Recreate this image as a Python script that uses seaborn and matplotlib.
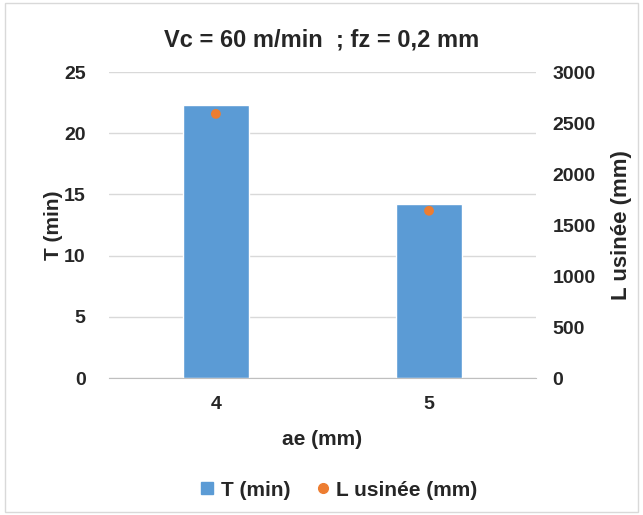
import seaborn as sns
import matplotlib.pyplot as plt
import pandas as pd
from matplotlib.lines import Line2D

# data
ae = ["4", "5"]
t_min = [22.3, 14.2]
l_usinee = [2590, 1640]

df = pd.DataFrame({"ae": ae, "T": t_min, "L": l_usinee})

sns.set_style("white")
plt.rcParams["font.family"] = ["Liberation Sans", "DejaVu Sans"]
plt.rcParams["font.weight"] = "bold"

fig = plt.figure(figsize=(6.43, 5.15), dpi=100)
ax = fig.add_axes([0.170, 0.266, 0.663, 0.594])

blue = "#5b9bd5"
orange = "#ed7d31"

sns.barplot(x="ae", y="T", data=df, color=blue, width=0.31, ax=ax,
            saturation=1, zorder=2)
ax.set_ylim(0, 25)
ax.set_xlim(-0.5, 1.5)
ax.set_yticks(range(0, 26, 5))
ax.yaxis.grid(True, color="#d9d9d9", linewidth=1, zorder=0)
ax.set_axisbelow(True)
for s in ["top", "left", "right"]:
    ax.spines[s].set_visible(False)
ax.spines["bottom"].set_color("#bfbfbf")
ax.tick_params(axis="y", length=0, labelsize=14, pad=17)
ax.tick_params(axis="x", length=0, labelsize=14, pad=13)
ax.set_xlabel("ae (mm)", fontsize=15, fontweight="bold", labelpad=12)
ax.set_ylabel("T (min)", fontsize=15, fontweight="bold", labelpad=1)

ax2 = ax.twinx()
sns.scatterplot(x=[0, 1], y=l_usinee, color=orange, s=50, edgecolor="none",
                ax=ax2, zorder=3)
ax2.set_ylim(0, 3000)
ax2.set_yticks(range(0, 3001, 500))
for s in ["top", "left", "right", "bottom"]:
    ax2.spines[s].set_visible(False)
ax2.tick_params(axis="y", length=0, labelsize=14, pad=12)
ax2.set_ylabel("L usinée (mm)", fontsize=16, fontweight="bold", labelpad=11)

for lab in ax.get_xticklabels() + ax.get_yticklabels() + ax2.get_yticklabels():
    lab.set_fontweight("bold")

fig.suptitle("Vc = 60 m/min  ; fz = 0,2 mm", fontsize=17, fontweight="bold",
             y=0.945)

handles = [
    Line2D([], [], marker="s", color=blue, linestyle="none", markersize=8),
    Line2D([], [], marker="o", color=orange, linestyle="none", markersize=7),
]
fig.legend(handles, ["T (min)", "L usinée (mm)"], loc="center",
           bbox_to_anchor=(0.527, 0.048), ncol=2, frameon=False,
           prop={"size": 15, "weight": "bold"}, handlelength=0.7,
           handletextpad=0.3, columnspacing=1.2)

# light chart border
fig.patches.append(plt.Rectangle((0.008, 0.005), 0.985, 0.99,
                                 transform=fig.transFigure, fill=False,
                                 edgecolor="#d9d9d9", linewidth=1))

fig.savefig("out.png", dpi=100)
